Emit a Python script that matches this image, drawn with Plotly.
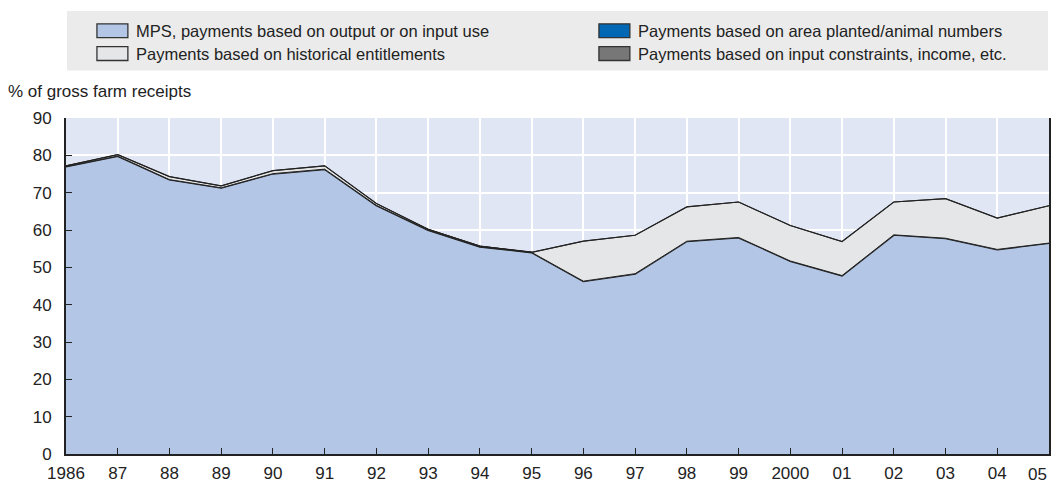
import plotly.graph_objects as go

years = list(range(1986, 2006))
tick_labels = ["1986", "87", "88", "89", "90", "91", "92", "93", "94", "95",
               "96", "97", "98", "99", "2000", "01", "02", "03", "04", "05"]

mps = [77.0, 79.8, 73.5, 71.3, 75.1, 76.3, 66.6, 60.0, 55.5, 54.0,
       46.3, 48.3, 57.0, 58.0, 51.7, 47.8, 58.7, 57.8, 54.8, 56.5]
area_planted = [0.0] * 20
historical = [0.2, 0.4, 0.8, 0.5, 0.8, 0.9, 0.5, 0.2, 0.2, 0.0,
              10.7, 10.3, 9.2, 9.5, 9.5, 9.1, 8.8, 10.6, 8.4, 10.0]
input_constraints = [0.0] * 20

series_names = [
    "MPS, payments based on output or on input use",
    "Payments based on area planted/animal numbers",
    "Payments based on historical entitlements",
    "Payments based on input constraints, income, etc.",
]
series_values = [mps, area_planted, historical, input_constraints]
series_colors = ["#B3C6E6", "#0067B4", "#E5E6E8", "#777777"]
series_lw = [2.0, 1.0, 1.2, 1.0]

FONT = "Liberation Sans, Arial, Helvetica, sans-serif"
FS = 17
FS_LEG = 16.5
TXT = "#222222"

# plot-area pixel geometry helpers
L, R, T, B = 66, 2, 118, 28
W, H = 1053, 485
PW, PH = W - L - R, H - T - B


def px_x(px):
    return (px - L) / PW


def px_y(py):
    return (H - B - py) / PH


fig = go.Figure()
for name, vals, col, lw in zip(series_names, series_values, series_colors, series_lw):
    fig.add_trace(go.Scatter(
        x=years, y=vals, name=name, mode="lines",
        stackgroup="one", fillcolor=col,
        line=dict(color="#222222", width=lw),
        showlegend=False,
    ))

# manual legend (boxes + text), laid out as in the reference
shapes = [dict(
    type="rect", xref="paper", yref="paper",
    x0=px_x(67), x1=px_x(1050), y0=px_y(70), y1=px_y(10),
    fillcolor="#EBEBEB", line=dict(width=0), layer="below",
)]
annotations = []
legend_pos = [(97, 30), (600, 30), (97, 53), (600, 53)]
for (lx, ly), name, col in zip(legend_pos, series_names, series_colors):
    shapes.append(dict(
        type="rect", xref="paper", yref="paper",
        x0=px_x(lx), x1=px_x(lx + 31), y0=px_y(ly + 7), y1=px_y(ly - 7),
        fillcolor=col, line=dict(color="#333333", width=1.3),
    ))
    annotations.append(dict(
        text=name, xref="paper", yref="paper",
        x=px_x(lx + 37), y=px_y(ly), xanchor="left", yanchor="middle",
        showarrow=False, font=dict(family=FONT, size=FS_LEG, color=TXT),
    ))

annotations.append(dict(
    text="% of gross farm receipts", xref="paper", yref="paper",
    x=px_x(6), y=px_y(91), xanchor="left", yanchor="middle",
    showarrow=False, font=dict(family=FONT, size=FS, color=TXT),
))
# last x label, right-aligned so it stays inside the page
annotations.append(dict(
    text=tick_labels[-1], xref="paper", yref="paper",
    x=px_x(1051), y=px_y(477.5), xanchor="right", yanchor="middle",
    showarrow=False, font=dict(family=FONT, size=FS, color=TXT),
))
shown_ticks = tick_labels[:-1] + [""]

fig.update_layout(
    width=W, height=H,
    margin=dict(l=L, r=R, t=T, b=B),
    paper_bgcolor="white",
    plot_bgcolor="#E0E6F4",
    font=dict(family=FONT, size=FS, color=TXT),
    showlegend=False,
    xaxis=dict(
        range=[1986, 2005], tickmode="array", tickvals=years, ticktext=shown_ticks,
        showgrid=True, gridcolor="white", gridwidth=1.5,
        ticks="inside", ticklen=6, tickcolor="#222222",
        showline=True, linecolor="#222222", linewidth=2, mirror=False,
        tickfont=dict(size=FS), zeroline=False, ticklabelstandoff=3,
    ),
    yaxis=dict(
        range=[0, 90], tickmode="array", tickvals=list(range(0, 91, 10)),
        showgrid=True, gridcolor="white", gridwidth=1.5,
        ticks="inside", ticklen=6, tickcolor="#222222",
        showline=True, linecolor="#222222", linewidth=2, mirror=True,
        tickfont=dict(size=FS), zeroline=False, ticklabelstandoff=9,
    ),
    shapes=shapes,
    annotations=annotations,
)

fig.write_html("out.html", config={"displayModeBar": False},
               post_script="document.body.style.margin='0';")
